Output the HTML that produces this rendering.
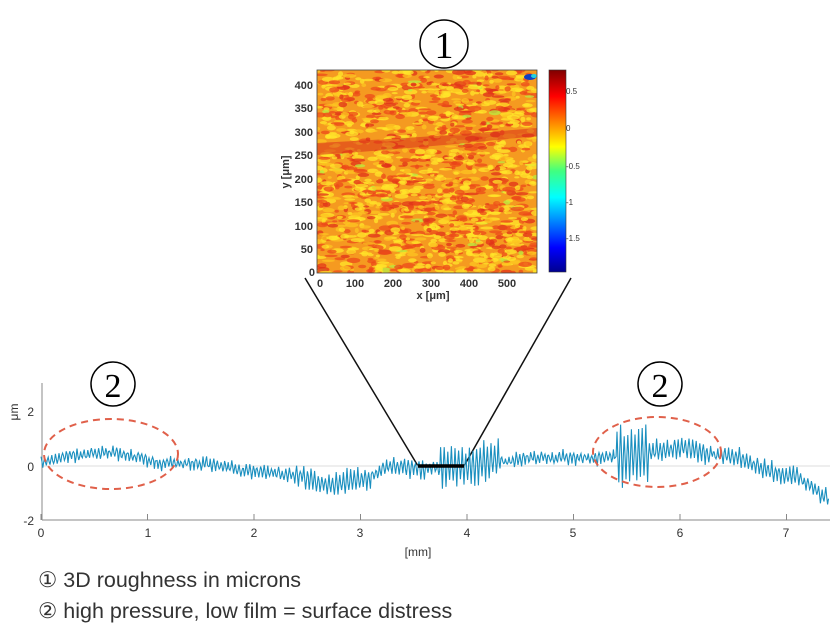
<!DOCTYPE html>
<html><head><meta charset="utf-8">
<style>
html,body{margin:0;padding:0;background:#fff;}
body{width:840px;height:642px;overflow:hidden;position:relative;font-family:"Liberation Sans",sans-serif;}
.cap{position:absolute;left:38px;font-size:21.5px;color:#333;white-space:nowrap;}
</style></head><body>
<svg id="s" width="840" height="642" style="position:absolute;left:0;top:0" xmlns="http://www.w3.org/2000/svg">
<defs>
<linearGradient id="jet" x1="0" y1="1" x2="0" y2="0">
<stop offset="0" stop-color="#00008f"/>
<stop offset="0.12" stop-color="#0000ff"/>
<stop offset="0.37" stop-color="#00ffff"/>
<stop offset="0.5" stop-color="#40ff80"/>
<stop offset="0.62" stop-color="#ffff00"/>
<stop offset="0.87" stop-color="#ff0000"/>
<stop offset="1" stop-color="#800000"/>
</linearGradient>
<clipPath id="hc"><rect x="317" y="70" width="220" height="203"/></clipPath>
</defs>
<circle cx="444" cy="44" r="24" fill="none" stroke="#000" stroke-width="1.5"/>
<text x="444" y="58" font-family="Liberation Serif" font-size="38" text-anchor="middle">1</text>
<rect x="317" y="70" width="220" height="203" fill="#f59a20"/>
<g id="heat" clip-path="url(#hc)"></g>
<rect x="317" y="70" width="220" height="203" fill="none" stroke="#444" stroke-width="0.8"/>
<g font-family="Liberation Sans" font-size="11" font-weight="bold" fill="#333" text-anchor="end">
<text x="313" y="89">400</text><text x="313" y="112">350</text><text x="313" y="136">300</text>
<text x="313" y="159">250</text><text x="313" y="183">200</text><text x="313" y="206">150</text>
<text x="313" y="230">100</text><text x="313" y="253">50</text><text x="315" y="276">0</text>
</g>
<g font-family="Liberation Sans" font-size="11" font-weight="bold" fill="#333" text-anchor="middle">
<text x="320" y="287">0</text><text x="355" y="287">100</text><text x="393" y="287">200</text>
<text x="431" y="287">300</text><text x="469" y="287">400</text><text x="507" y="287">500</text>
<text x="433" y="299">x [μm]</text>
</g>
<text x="0" y="0" font-family="Liberation Sans" font-size="11" font-weight="bold" fill="#333" text-anchor="middle" transform="translate(289,172) rotate(-90)">y [μm]</text>
<rect x="549" y="70" width="17" height="202" fill="url(#jet)" stroke="#333" stroke-width="0.6"/>
<g font-family="Liberation Sans" font-size="8" fill="#333">
<text x="566" y="94">0.5</text><text x="566" y="131">0</text><text x="566" y="169">-0.5</text>
<text x="566" y="205">-1</text><text x="566" y="241">-1.5</text>
</g>
<line x1="305" y1="278" x2="418" y2="466" stroke="#111" stroke-width="1.5"/>
<line x1="571" y1="278" x2="464" y2="466" stroke="#111" stroke-width="1.5"/>
<line x1="42" y1="466" x2="830" y2="466" stroke="#ddd" stroke-width="1"/>
<line x1="42" y1="383" x2="42" y2="520" stroke="#888" stroke-width="1"/>
<line x1="42" y1="520" x2="830" y2="520" stroke="#888" stroke-width="1"/>
<g id="ticks" stroke="#888" stroke-width="1"></g>
<g font-family="Liberation Sans" font-size="12" fill="#333" text-anchor="middle">
<text x="41" y="537">0</text><text x="148" y="537">1</text><text x="254" y="537">2</text>
<text x="360" y="537">3</text><text x="467" y="537">4</text><text x="573" y="537">5</text>
<text x="680" y="537">6</text><text x="786" y="537">7</text>
<text x="418" y="556">[mm]</text>
</g>
<g font-family="Liberation Sans" font-size="12" fill="#333" text-anchor="end">
<text x="34" y="416">2</text><text x="34" y="471">0</text><text x="34" y="525">-2</text>
</g>
<text x="0" y="0" font-family="Liberation Sans" font-size="12" fill="#333" text-anchor="middle" transform="translate(18,412) rotate(-90)">μm</text>
<path id="sig" fill="none" stroke="#1a8fbf" stroke-width="1.1"/>
<line x1="418" y1="466" x2="464" y2="466" stroke="#000" stroke-width="3.5"/>
<ellipse cx="111" cy="454" rx="67" ry="35" fill="none" stroke="#e0604a" stroke-width="2" stroke-dasharray="7,5"/>
<ellipse cx="657" cy="452" rx="64" ry="35" fill="none" stroke="#e0604a" stroke-width="2" stroke-dasharray="7,5"/>
<circle cx="113" cy="384" r="22" fill="none" stroke="#000" stroke-width="1.5"/>
<text x="113" y="397" font-family="Liberation Serif" font-size="34" text-anchor="middle">2</text>
<circle cx="660" cy="384" r="22" fill="none" stroke="#000" stroke-width="1.5"/>
<text x="660" y="397" font-family="Liberation Serif" font-size="34" text-anchor="middle">2</text>
</svg>
<div class="cap" style="top:568px">① 3D roughness in microns</div>
<div class="cap" style="top:599px">② high pressure, low film = surface distress</div>
<script>
var ns="http://www.w3.org/2000/svg";
var seed=7;function rnd(){seed=(seed*16807)%2147483647;return seed/2147483647;}
var tk=document.getElementById("ticks");
for(var i=0;i<=7;i++){var x=41+i*106.5;var l=document.createElementNS(ns,"line");
l.setAttribute("x1",x);l.setAttribute("x2",x);l.setAttribute("y1",514);l.setAttribute("y2",520);tk.appendChild(l);}
var h=document.getElementById("heat");
var out="";
for(var k=0;k<1600;k++){var x=317+rnd()*220,y=70+rnd()*203;var r=rnd();
var c=r<0.4?"#ffe62a":r<0.55?"#fcc420":r<0.85?"#ec4a1a":r<0.97?"#e0301a":"#b8ee40";
out+='<ellipse cx="'+x.toFixed(1)+'" cy="'+y.toFixed(1)+'" rx="'+(2+rnd()*5).toFixed(1)+'" ry="'+(1+rnd()*1.8).toFixed(1)+'" fill="'+c+'" opacity="0.75"/>';}
out+='<path d="M317 143 Q420 138 537 128 L537 136 Q420 148 317 155Z" fill="#d8301a" opacity="0.55"/>';
out+='<ellipse cx="530" cy="77" rx="6" ry="3" fill="#1040c0"/><ellipse cx="534" cy="76" rx="3" ry="2" fill="#20d0e0"/>';
h.innerHTML=out;
var pts=[[0,0.2],[0.3,0.4],[0.6,0.5],[0.9,0.35],[1.1,0.1],[1.5,0.1],[2,-0.2],[2.4,-0.35],[2.7,-0.7],[3.0,-0.5],[3.3,0.0],[3.6,-0.1],[4,0.0],[4.3,0.2],[4.7,0.3],[5.2,0.3],[5.5,0.4],[6,0.65],[6.4,0.4],[7,-0.3],[7.45,-1.2]];
function base(m){for(var i=0;i<pts.length-1;i++){if(m<=pts[i+1][0]){var a=pts[i],b=pts[i+1],t=(m-a[0])/(b[0]-a[0]);t=(1-Math.cos(Math.PI*t))/2;return a[1]+(b[1]-a[1])*t;}}return pts[pts.length-1][1];}
function amp(m){var a=0.22;if(m>2.4&&m<3.1)a=0.4;if(m>3.3&&m<3.6)a=0.35;if(m>3.75&&m<4.3)a=0.75;if(m>5.4&&m<5.7)a=1.1;if(m>5.7&&m<6.3)a=0.35;if(m>6.5)a=0.32;return a;}
var d="";var step=0.9,i=0;
for(var x=41;x<=829;x+=step,i++){var m=(x-41)/106.5;var v=base(m)+(rnd()-0.5)*0.2;
if(i%4==0)v+=amp(m)*(0.6+rnd()*0.5);else if(i%4==2)v-=amp(m)*(0.6+rnd()*0.5);
var y=466-v*27.2;d+=(i?"L":"M")+x.toFixed(1)+" "+y.toFixed(1);}
document.getElementById("sig").setAttribute("d",d);
</script>
</body></html>
